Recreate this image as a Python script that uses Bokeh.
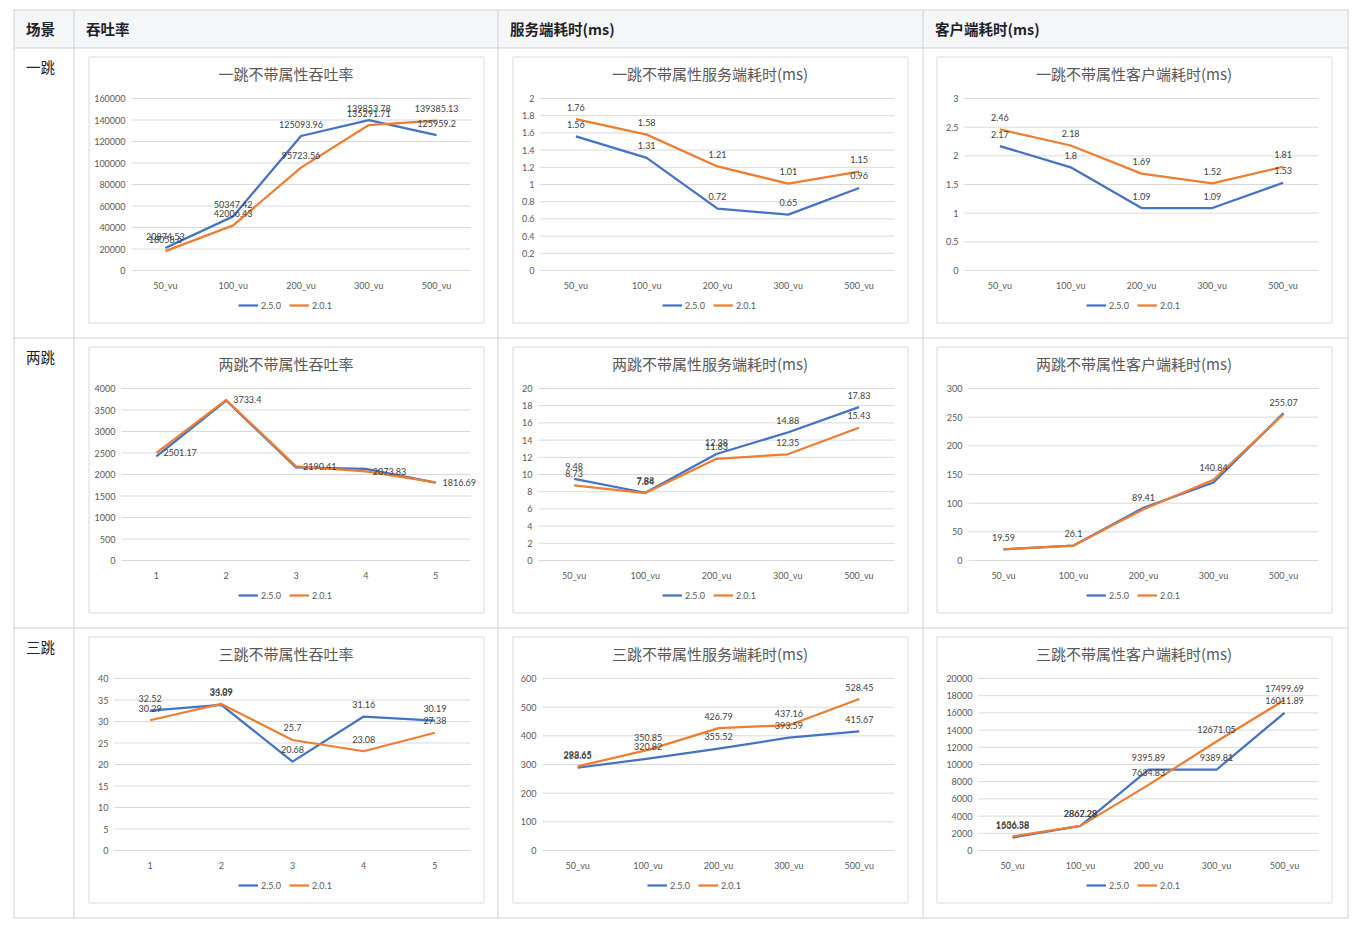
from bokeh.plotting import figure
from bokeh.models import Range1d, Legend, LegendItem
from bokeh.core.properties import value
from bokeh.embed import file_html
from bokeh.resources import INLINE

# ---------------- data ----------------
header_labels = ["场景", "吞吐率", "服务端耗时(ms)", "客户端耗时(ms)"]
scene_labels = ["一跳", "两跳", "三跳"]
series_names = ["2.5.0", "2.0.1"]
factors_vu = ["50_vu", "100_vu", "200_vu", "300_vu", "500_vu"]
factors_num = ["1", "2", "3", "4", "5"]

titles = [
    ["一跳不带属性吞吐率", "一跳不带属性服务端耗时(ms)", "一跳不带属性客户端耗时(ms)"],
    ["两跳不带属性吞吐率", "两跳不带属性服务端耗时(ms)", "两跳不带属性客户端耗时(ms)"],
    ["三跳不带属性吞吐率", "三跳不带属性服务端耗时(ms)", "三跳不带属性客户端耗时(ms)"],
]

tp1_v250 = [20874.53, 50347.42, 125093.96, 139853.78, 125959.2]
tp1_v201 = [18058.6, 42006.43, 95723.56, 135291.71, 139385.13]
srv1_v250 = [1.56, 1.31, 0.72, 0.65, 0.96]
srv1_v201 = [1.76, 1.58, 1.21, 1.01, 1.15]
cli1_v250 = [2.17, 1.8, 1.09, 1.09, 1.53]
cli1_v201 = [2.46, 2.18, 1.69, 1.52, 1.81]

tp2_v250 = [2420, 3720, 2165, 2130, 1810]
tp2_v201 = [2501.17, 3733.4, 2190.41, 2073.83, 1816.69]
srv2_v250 = [9.48, 7.88, 12.38, 14.88, 17.83]
srv2_v201 = [8.73, 7.84, 11.83, 12.35, 15.43]
cli2_v250 = [19.5, 26.0, 92.0, 136.0, 257.0]
cli2_v201 = [19.59, 26.1, 89.41, 140.84, 255.07]

tp3_v250 = [32.52, 33.89, 20.68, 31.16, 30.19]
tp3_v201 = [30.29, 34.09, 25.7, 23.08, 27.38]
srv3_v250 = [288.65, 320.82, 355.52, 393.59, 415.67]
srv3_v201 = [293.65, 350.85, 426.79, 437.16, 528.45]
cli3_v250 = [1506.58, 2867.29, 9395.89, 9389.81, 16011.89]
cli3_v201 = [1636.38, 2862.28, 7634.83, 12671.05, 17499.69]

ticks_tp1 = [0, 20000, 40000, 60000, 80000, 100000, 120000, 140000, 160000]
ticks_srv1 = [0, 0.2, 0.4, 0.6, 0.8, 1, 1.2, 1.4, 1.6, 1.8, 2]
ticks_cli1 = [0, 0.5, 1, 1.5, 2, 2.5, 3]
ticks_tp2 = [0, 500, 1000, 1500, 2000, 2500, 3000, 3500, 4000]
ticks_srv2 = [0, 2, 4, 6, 8, 10, 12, 14, 16, 18, 20]
ticks_cli2 = [0, 50, 100, 150, 200, 250, 300]
ticks_tp3 = [0, 5, 10, 15, 20, 25, 30, 35, 40]
ticks_srv3 = [0, 100, 200, 300, 400, 500, 600]
ticks_cli3 = [0, 2000, 4000, 6000, 8000, 10000, 12000, 14000, 16000, 18000, 20000]

# ---------------- styles / layout ----------------
W, H = 1352, 921
BORDER = "#cfd2d9"
HEAD_BG = "#f5f6f8"
BOX = "#d9d9d9"
BLUE = "#4472C4"
ORANGE = "#ED7D31"
GRAY = "#A5A5A5"
AXIS_TXT = "#595959"
LBL_TXT = "#404040"
CELL_TXT = "#1f2329"
NUM_FONT = "Lato"
CJK_FONT = "Noto Sans CJK SC"

TABLE_VX = [13.5, 73.5, 497.5, 922.5, 1347.5]
TABLE_HY = [9.5, 47.5, 337.5, 627.5, 917.5]
BOX_X = [88, 512, 936]
BOX_Y = [56, 346, 636]
BOX_W, BOX_H = 395, 266

chart_specs = [
    [(factors_vu, tp1_v250, tp1_v201, ticks_tp1, 43, "above", False),
     (factors_vu, srv1_v250, srv1_v201, ticks_srv1, 28, "above", False),
     (factors_vu, cli1_v250, cli1_v201, ticks_cli1, 28, "above", False)],
    [(factors_num, tp2_v250, tp2_v201, ticks_tp2, 33, "right_b", False),
     (factors_vu, srv2_v250, srv2_v201, ticks_srv2, 26, "above", False),
     (factors_vu, cli2_v250, cli2_v201, ticks_cli2, 32, "above_b", False)],
    [(factors_num, tp3_v250, tp3_v201, ticks_tp3, 26, "above", False),
     (factors_vu, srv3_v250, srv3_v201, ticks_srv3, 30, "above", True),
     (factors_vu, cli3_v250, cli3_v201, ticks_cli3, 42, "above", False)],
]

p = figure(width=W, height=H, x_range=Range1d(0, W), y_range=Range1d(H, 0),
           x_axis_type=None, y_axis_type=None, min_border=0,
           toolbar_location=None, output_backend="svg")
p.outline_line_color = None
p.background_fill_color = "white"
p.border_fill_color = "white"

# ---- table ----
p.quad(left=TABLE_VX[0] + 0.5, right=TABLE_VX[-1] - 0.5, top=TABLE_HY[0] + 0.5, bottom=TABLE_HY[1] - 0.5,
       fill_color=HEAD_BG, line_color=None)
p.segment(x0=TABLE_VX, x1=TABLE_VX, y0=TABLE_HY[0] - 0.5, y1=TABLE_HY[-1] + 0.5,
          line_color=BORDER, line_width=1)
p.segment(x0=TABLE_VX[0] - 0.5, x1=TABLE_VX[-1] + 0.5, y0=TABLE_HY, y1=TABLE_HY,
          line_color=BORDER, line_width=1)
p.text(x=[v + 12 for v in TABLE_VX[:4]], y=(TABLE_HY[0] + TABLE_HY[1]) / 2 - 1, text=header_labels,
       text_font=value(CJK_FONT), text_font_size="14.5px", text_font_style="bold",
       text_color=CELL_TXT, text_align="left", text_baseline="middle")
p.text(x=TABLE_VX[0] + 12, y=[h + 18.5 for h in TABLE_HY[1:4]], text=scene_labels,
       text_font=value(CJK_FONT), text_font_size="14.5px",
       text_color=CELL_TXT, text_align="left", text_baseline="middle")

x_ranges = {}
y_ranges = {}
plans = []
for r in range(3):
    for c in range(3):
        factors, a, b, ticks, fl, mode, gray = chart_specs[r][c]
        bx, by = BOX_X[c], BOX_Y[r]
        L, R, T, B = bx + fl, bx + 382, by + 42, by + 214
        n = len(factors)
        kx = n / (R - L)
        ky = ticks[-1] / (B - T)
        xn, yn = f"x{r}{c}", f"y{r}{c}"
        x_ranges[xn] = Range1d(-L * kx, -L * kx + W * kx)
        y_ranges[yn] = Range1d((B - H) * ky, B * ky)
        plans.append((r, c, xn, yn))
p.extra_x_ranges = x_ranges
p.extra_y_ranges = y_ranges

for r, c, xn, yn in plans:
    factors, a, b, ticks, fl, mode, gray = chart_specs[r][c]
    bx, by = BOX_X[c], BOX_Y[r]
    n = len(factors)
    xpos = [i + 0.5 for i in range(n)]
    rk = dict(x_range_name=xn, y_range_name=yn)

    # chart box
    p.quad(left=bx + 0.5, right=bx + BOX_W + 0.5, top=by + 0.5, bottom=by + BOX_H + 0.5,
           fill_color="white", line_color=BOX, line_width=1)
    # title
    p.text(x=[bx + BOX_W / 2], y=[by + 17], text=[titles[r][c]], text_font=value(CJK_FONT),
           text_font_size="15px", text_color=AXIS_TXT, text_align="center", text_baseline="middle")
    # grid + y tick labels
    p.segment(x0=0, x1=n, y0=ticks, y1=ticks, line_color=BOX, line_width=1, **rk)
    p.text(x=0, y=ticks, text=[str(t) for t in ticks], x_offset=-6, text_font=value(NUM_FONT),
           text_font_size="9px", text_color=AXIS_TXT, text_align="right", text_baseline="middle", **rk)
    # x category labels
    p.text(x=xpos, y=0, text=factors, y_offset=14.5, text_font=value(NUM_FONT),
           text_font_size="9px", text_color=AXIS_TXT, text_align="center", text_baseline="middle", **rk)
    # series
    r_a = p.line(x=xpos, y=a, line_color=BLUE, line_width=2.25, line_join="round", **rk)
    r_b = p.line(x=xpos, y=b, line_color=ORANGE, line_width=2.25, line_join="round", **rk)
    labeled = [b] if mode in ("right_b", "above_b") else [a, b]
    for s in labeled:
        if mode == "right_b":
            p.text(x=xpos, y=s, text=[str(v) for v in s], x_offset=7, text_font=value(NUM_FONT),
                   text_font_size="9px", text_color=LBL_TXT, text_align="left",
                   text_baseline="middle", **rk)
        else:
            p.text(x=xpos, y=s, text=[str(v) for v in s], y_offset=-12, text_font=value(NUM_FONT),
                   text_font_size="9px", text_color=LBL_TXT, text_align="center",
                   text_baseline="middle", **rk)
    items = [LegendItem(label=series_names[0], renderers=[r_a]),
             LegendItem(label=series_names[1], renderers=[r_b])]
    leg_left = 150
    if gray:
        r_g = p.line(x=[], y=[], line_color=GRAY, line_width=2.25, **rk)
        items.append(LegendItem(label=" ", renderers=[r_g]))
        leg_left = 135
    leg = Legend(items=items, orientation="horizontal", location=(bx + leg_left, H - (by + 254.5)))
    leg.label_text_font = NUM_FONT
    leg.label_text_font_size = "9px"
    leg.label_text_color = AXIS_TXT
    leg.glyph_width = 20
    leg.glyph_height = 10
    leg.label_height = 10
    leg.label_standoff = 3
    leg.spacing = 8
    leg.padding = 0
    leg.margin = 0
    leg.border_line_color = None
    leg.background_fill_alpha = 0
    p.add_layout(leg)

open("out.html", "w").write(file_html(p, INLINE))
